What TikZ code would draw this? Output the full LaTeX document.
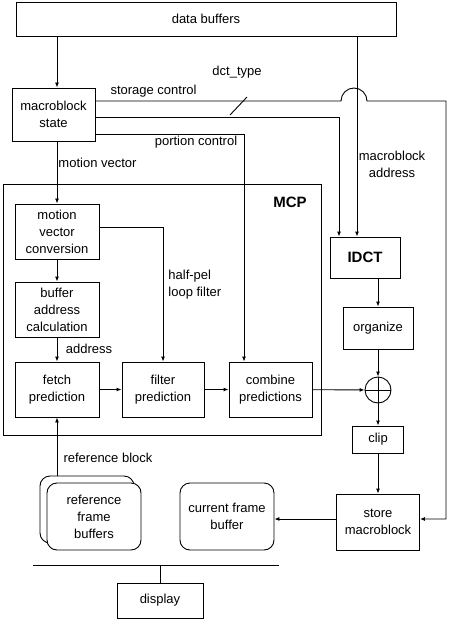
\documentclass[tikz,border=0pt]{standalone}
\usepackage{fontspec}
\setmainfont{Liberation Sans}
\usetikzlibrary{arrows.meta}
\begin{document}
\begin{tikzpicture}[x=1pt,y=-1pt,line width=0.9pt,
    font=\fontsize{13}{17}\selectfont,
    arr/.style={-{Latex[length=5pt,width=4pt]}},
    blk/.style={draw,align=center,inner sep=0pt}]
  \useasboundingbox (0,0) rectangle (450,620);

  % MCP frame
  \node[draw,minimum width=318pt,minimum height=251pt] (mcpbox) at (162,309.5) {};
  \node[font=\fontsize{15}{17}\selectfont\bfseries] (mcp) at (290,202) {MCP};

  \begin{scope}[every node/.style={blk,minimum width=84pt,minimum height=55pt}]
    \node[minimum width=380pt,minimum height=34pt] (buf) at (206,19) {data buffers};
    \node[minimum width=83pt,minimum height=53pt] (mbs) at (53.5,114.5) {macroblock\\state};
    \node (mvc)   at (57,231.5)  {motion\\vector\\conversion};
    \node (bac)   at (57,309.5)  {buffer\\address\\calculation};
    \node (fetch) at (57,389.5)  {fetch\\prediction};
    \node[minimum width=82pt] (filt) at (163,389.5) {filter\\prediction};
    \node[minimum width=83pt] (comb) at (270.5,389.5) {combine\\predictions};
    \node[minimum width=70pt,minimum height=41pt,
          font=\fontsize{15}{17}\selectfont\bfseries] (idct) at (365,257.5) {IDCT};
    \node[minimum width=70pt,minimum height=42pt] (org)  at (378,328)   {organize};
    \node[circle,minimum width=26pt,minimum height=26pt] (sum) at (378,390) {};
    \node[minimum width=51pt,minimum height=27pt] (clip) at (378,439.5) {clip};
    \node[minimum width=83pt,minimum height=56pt] (store) at (378,522) {store\\macroblock};
    \node[minimum width=86pt,minimum height=35pt] (disp) at (160,600.5) {display};
  \end{scope}

  \begin{scope}[every node/.style={blk,rounded corners=10pt,fill=white,
                minimum width=94pt,minimum height=67pt}]
    \node (rfbb) at (87,509.5)  {};
    \node (rfb)  at (94,516.5)  {reference\\frame\\buffers};
    \node (cfb)  at (227,516.5) {current frame\\buffer};
  \end{scope}

  \draw (sum.north) -- (sum.south) (sum.west) -- (sum.east);

  % labels
  \begin{scope}[every node/.style={align=center,inner sep=0pt}]
    \node (sclbl) at (153.5,91)  {storage control};
    \node (dtlbl) at (237,72)    {dct\_type};
    \node (pclbl) at (196,142)   {portion control};
    \node (mvlbl) at (97.5,163)  {motion vector};
    \node (malbl) at (392,164.5) {macroblock\\address};
    \node[anchor=west,align=left] (hplbl) at (168,284.5) {half-pel\\loop filter};
    \node (adlbl) at (89,349)    {address};
    \node (rblbl) at (108,458)   {reference block};
  \end{scope}

  \coordinate (ma)  at ([xshift=-8pt]idct.north);
  \coordinate (hop) at (341,101);
  \coordinate (rt)  at (446,101);
  \coordinate (busl) at (33,565);
  \coordinate (busr) at (279,565);

  \draw[arr] (mvc.north |- buf.south) -- (mvc.north |- mbs.north);
  \draw[arr] ([yshift=13.5pt]mbs.east) -- (hop)
    arc[start angle=180,end angle=360,radius=13] -- (rt) |- ([yshift=3pt]store.east);
  \draw[arr] ([yshift=-2.5pt]mbs.east) -| ([xshift=-26pt]idct.north);
  \draw[arr] ([yshift=-19.5pt]mbs.east) -| ([xshift=-26.5pt]comb.north);
  \draw[arr] (ma |- buf.south) -- (ma);
  \draw (230,115) -- (247,97);

  \draw[arr] (mbs.south -| mvc.north) -- (mvc.north);
  \draw[arr] (mvc) -- (bac);
  \draw[arr] (bac) -- (fetch);
  \draw[arr] ([yshift=4.5pt]mvc.east) -| (filt.north);
  \draw[arr] (fetch) -- (filt);
  \draw[arr] (filt) -- (comb);
  \draw[arr] (comb) -- (sum);

  \draw[arr] (org.north |- idct.south) -- (org);
  \draw[arr] (org) -- (sum);
  \draw[arr] (sum) -- (clip);
  \draw[arr] (clip) -- (store);
  \draw[arr] ([yshift=3pt]store.west) -- ([yshift=-2.5pt]cfb.east);
  \draw[arr] (fetch.south |- rfbb.north) -- (fetch);

  \draw (busl) -- (busr);
  \draw (disp.north |- busl) -- (disp);

\end{tikzpicture}
\end{document}
